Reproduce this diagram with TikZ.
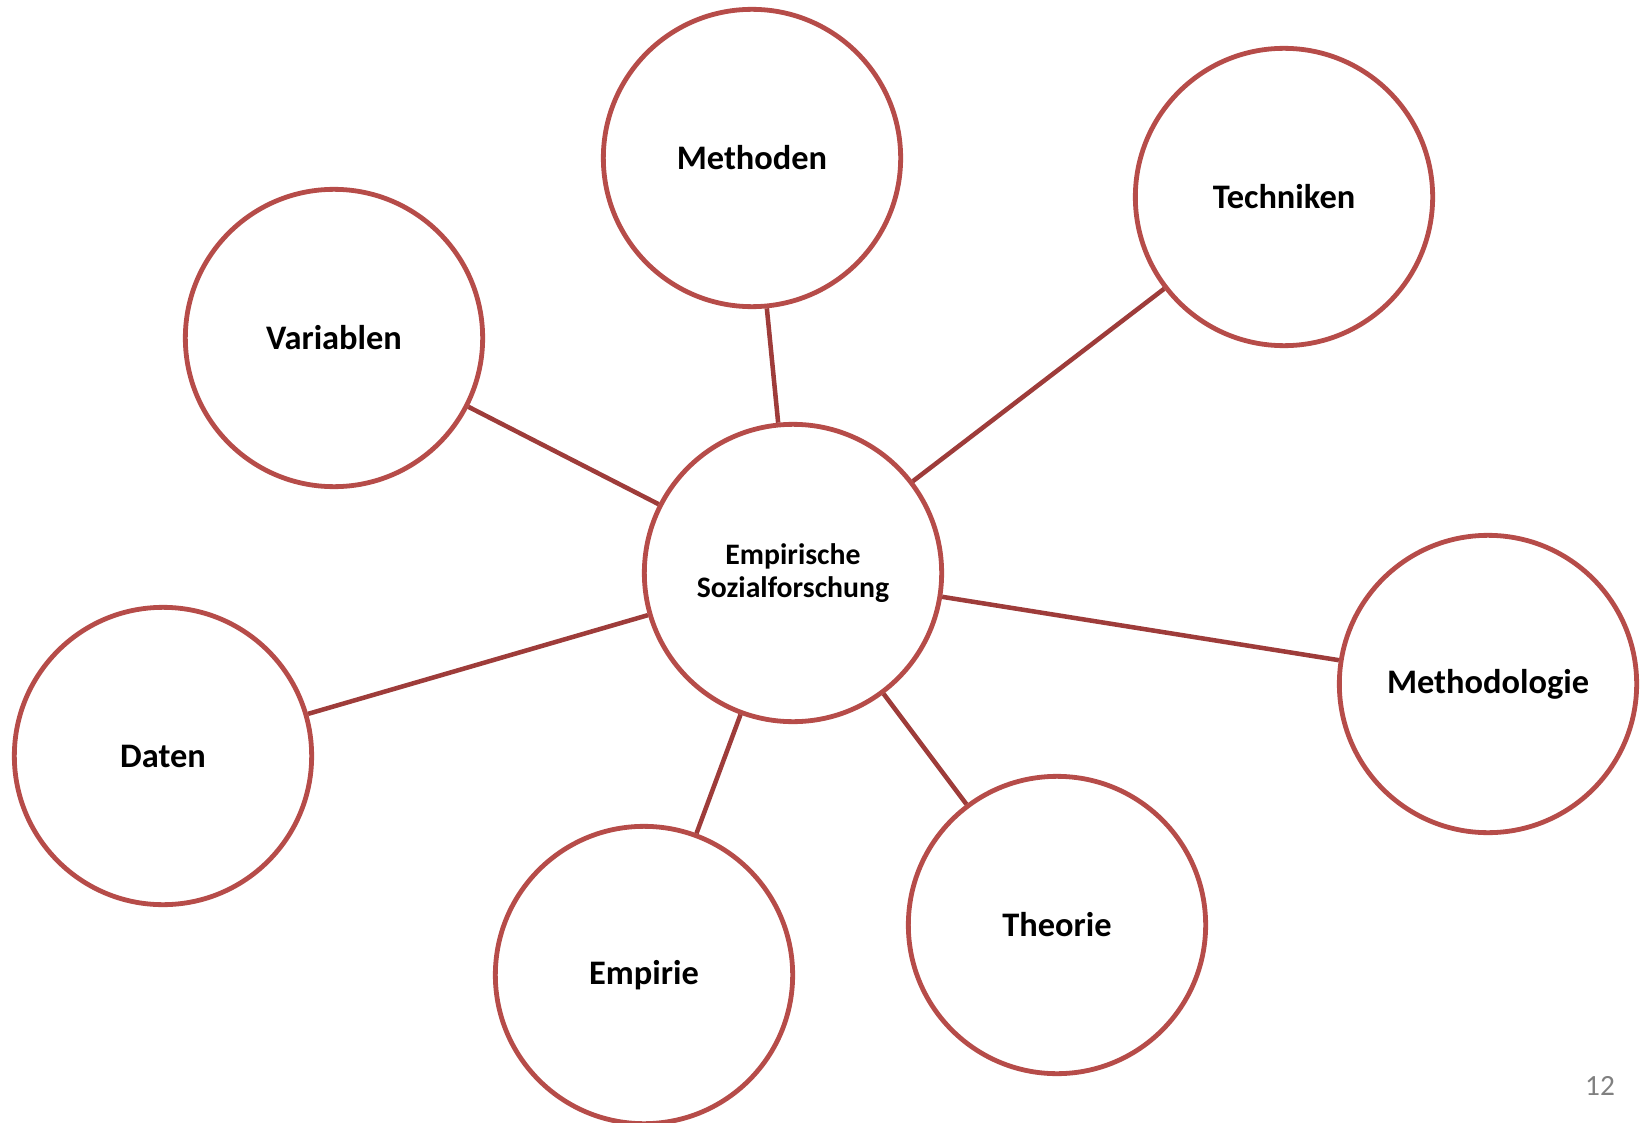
\documentclass[tikz,border=0pt]{standalone}
\usepackage{fontspec}
\setmainfont{Carlito}

\definecolor{ringred}{RGB}{182,76,73}
\definecolor{spokered}{RGB}{158,60,58}
\definecolor{pagegrey}{RGB}{128,128,128}

\tikzset{every picture/.style={line width=0.75pt}}
\tikzset{
	bubble/.style={circle, draw=ringred, line width=3.6pt, fill=white, minimum size=223pt, inner sep=0pt, align=center, font=\bfseries\fontsize{25.8}{30}\selectfont},
	spoke/.style={draw=spokered, line width=3.4pt}
}

\begin{document}
\begin{tikzpicture}[x=0.75pt,y=0.75pt,yscale=-1,xscale=1]
	%set diagram frame to the slide size
	\useasboundingbox (0,0) rectangle (1645,1123);
	
	% Centre Node
	\node [bubble, font=\bfseries\fontsize{22.3}{24}\selectfont] (esf) at (793,573) {\raisebox{-4pt}{\shortstack{Empirische\\[2pt]Sozialforschung}}};
	% Outer Nodes
	\node [bubble] (meth) at (752,158) {Methoden};
	\node [bubble] (tech) at (1284,197) {Techniken};
	\node [bubble] (vari) at (334,338) {Variablen};
	\node [bubble] (mlog) at (1488,684) {Methodologie};
	\node [bubble] (dat) at (163,756) {Daten};
	\node [bubble] (emp) at (644,975) {Empirie};
	\node [bubble] (theo) at (1057,925) {Theorie};
	
	% Straight Lines
	\foreach \n in {meth,tech,vari,mlog,dat,emp,theo}
		\draw [spoke] (esf) -- (\n) ;
	
	% Text Node
	\node [text=pagegrey, font=\fontsize{22}{26}\selectfont] (pnum) at (1600,1086) {12};
	
\end{tikzpicture}
\end{document}
